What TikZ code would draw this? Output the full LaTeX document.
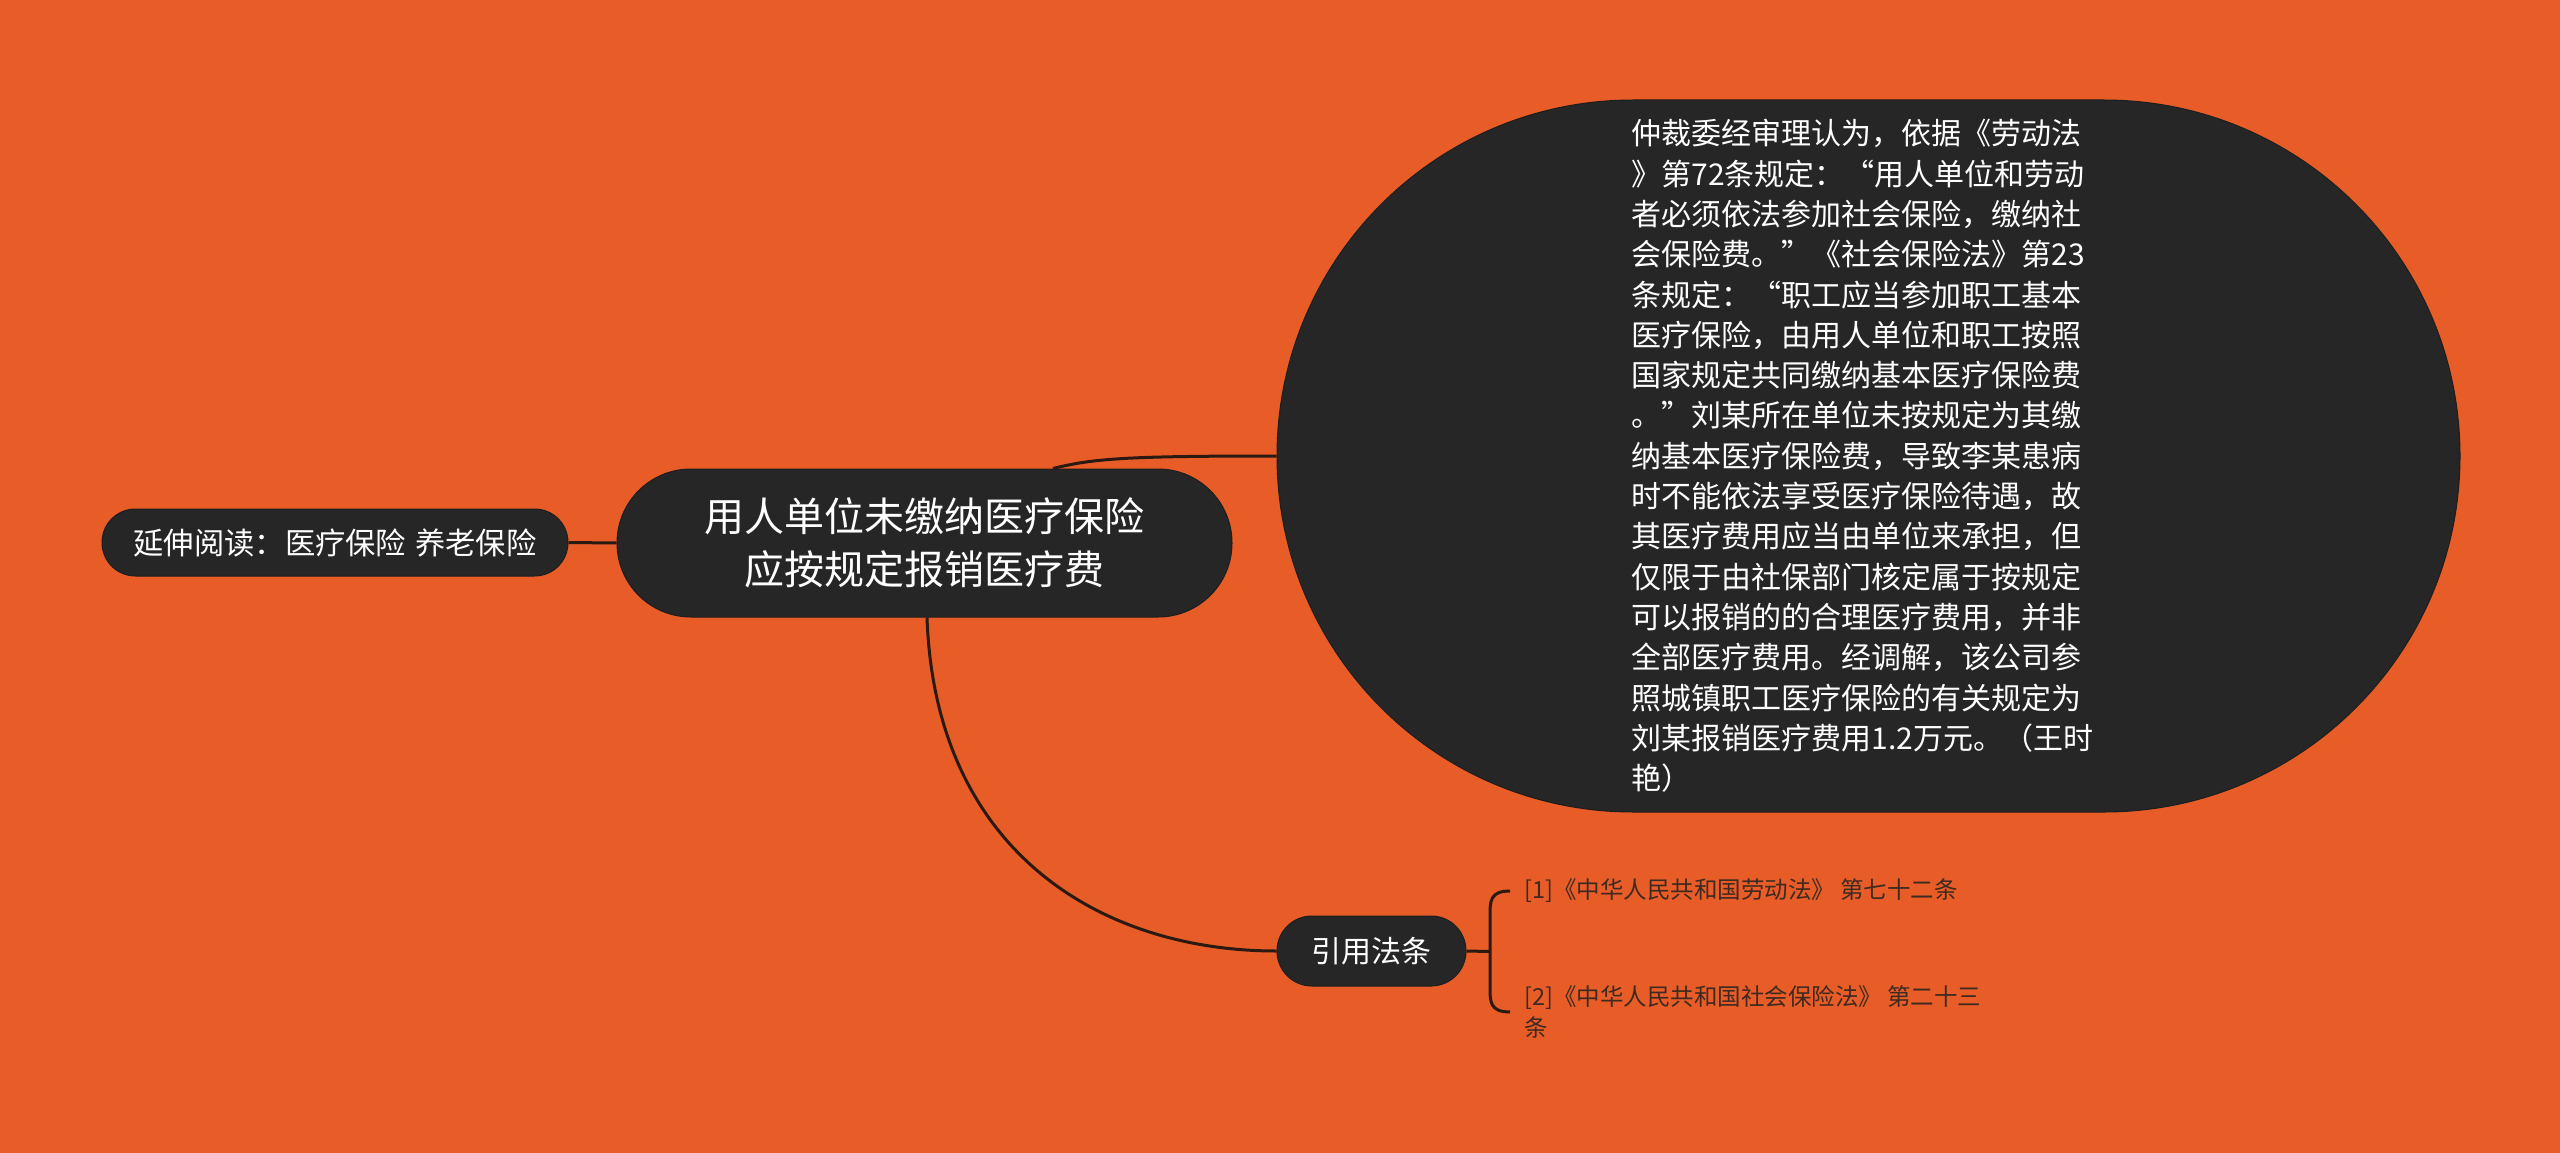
\documentclass[tikz,border=0pt]{standalone}
\usepackage{fontspec}
\setmainfont{Noto Sans CJK SC}
\usetikzlibrary{calc}
\definecolor{bg}{HTML}{E85C28}
\definecolor{nodefill}{HTML}{262626}
\definecolor{linec}{HTML}{2A1A12}
\definecolor{leafc}{HTML}{3D2A20}
\begin{document}
\begin{tikzpicture}[x=1pt,y=-1pt,
  pill/.style={fill=nodefill, draw=nodefill!80!black, line width=1pt, text=white, inner sep=0pt, align=center},
  bigpill/.style={fill=nodefill, draw=nodefill!80!black, line width=1pt, text=white, inner sep=0pt, align=left},
  conn/.style={draw=linec, line width=3pt},
  leaf/.style={text=leafc, inner sep=0pt, anchor=west, align=left, font=\fontsize{23.5}{31}\selectfont}]
\fill[bg] (0,0) rectangle (2560,1153);
\useasboundingbox (0,0) rectangle (2560,1153);

\node[pill, minimum width=615pt, minimum height=148pt, rounded corners=73.9pt,
  font=\fontsize{40}{53}\selectfont] (center) at (924.5,543)
  {用人单位未缴纳医疗保险\\应按规定报销医疗费};

\node[pill, minimum width=466pt, minimum height=67pt, rounded corners=33.4pt,
  font=\fontsize{30.3}{36}\selectfont] (read) at (335,542.5)
  {延伸阅读：医疗保险\hspace{0.3em}养老保险};

\node[bigpill, minimum width=1183pt, minimum height=712pt, rounded corners=355.9pt,
  font=\fontsize{30}{40.3}\selectfont] (big) at (1868.5,456)
  {仲裁委经审理认为，依据《劳动法\\
》第72条规定：“用人单位和劳动\\
者必须依法参加社会保险，缴纳社\\
会保险费。”《社会保险法》第23\\
条规定：“职工应当参加职工基本\\
医疗保险，由用人单位和职工按照\\
国家规定共同缴纳基本医疗保险费\\
。”刘某所在单位未按规定为其缴\\
纳基本医疗保险费，导致李某患病\\
时不能依法享受医疗保险待遇，故\\
其医疗费用应当由单位来承担，但\\
仅限于由社保部门核定属于按规定\\
可以报销的的合理医疗费用，并非\\
全部医疗费用。经调解，该公司参\\
照城镇职工医疗保险的有关规定为\\
刘某报销医疗费用1.2万元。（王时\rule{12pt}{0pt}\\
艳）};

\node[pill, minimum width=189pt, minimum height=70pt, rounded corners=34.9pt,
  font=\fontsize{30}{36}\selectfont] (cite) at (1371.5,951) {引用法条};

\node[leaf] (leaf1) at (1524,891) {[1]《中华人民共和国劳动法》 第七十二条};
\node[leaf] (leaf2) at (1524,1012) {[2]《中华人民共和国社会保险法》 第二十三\\条};

\coordinate (b1) at ([xshift=-14pt]leaf1.west);
\coordinate (b2) at ([xshift=-14pt]leaf2.west);
\coordinate (bm) at ($(b1)!0.5!(b2)+(-20,0)$);

\draw[conn] (read.east) -- (center.west);
\draw[conn] ([xshift=128.5pt]center.north) .. controls +(40,-10) and +(-150,0) .. (big.west);
\draw[conn] ([xshift=2.5pt]center.south) .. controls +(8,233) and +(-177,0) .. (cite.west);
\draw[conn] (cite.east) -- (bm);
\draw[conn] (b1) .. controls +(-20,0) and +(0,-15) .. ($(b1)+(-20,25)$)
  -- ($(b2)+(-20,-25)$) .. controls +(0,15) and +(-20,0) .. (b2);
\end{tikzpicture}
\end{document}
